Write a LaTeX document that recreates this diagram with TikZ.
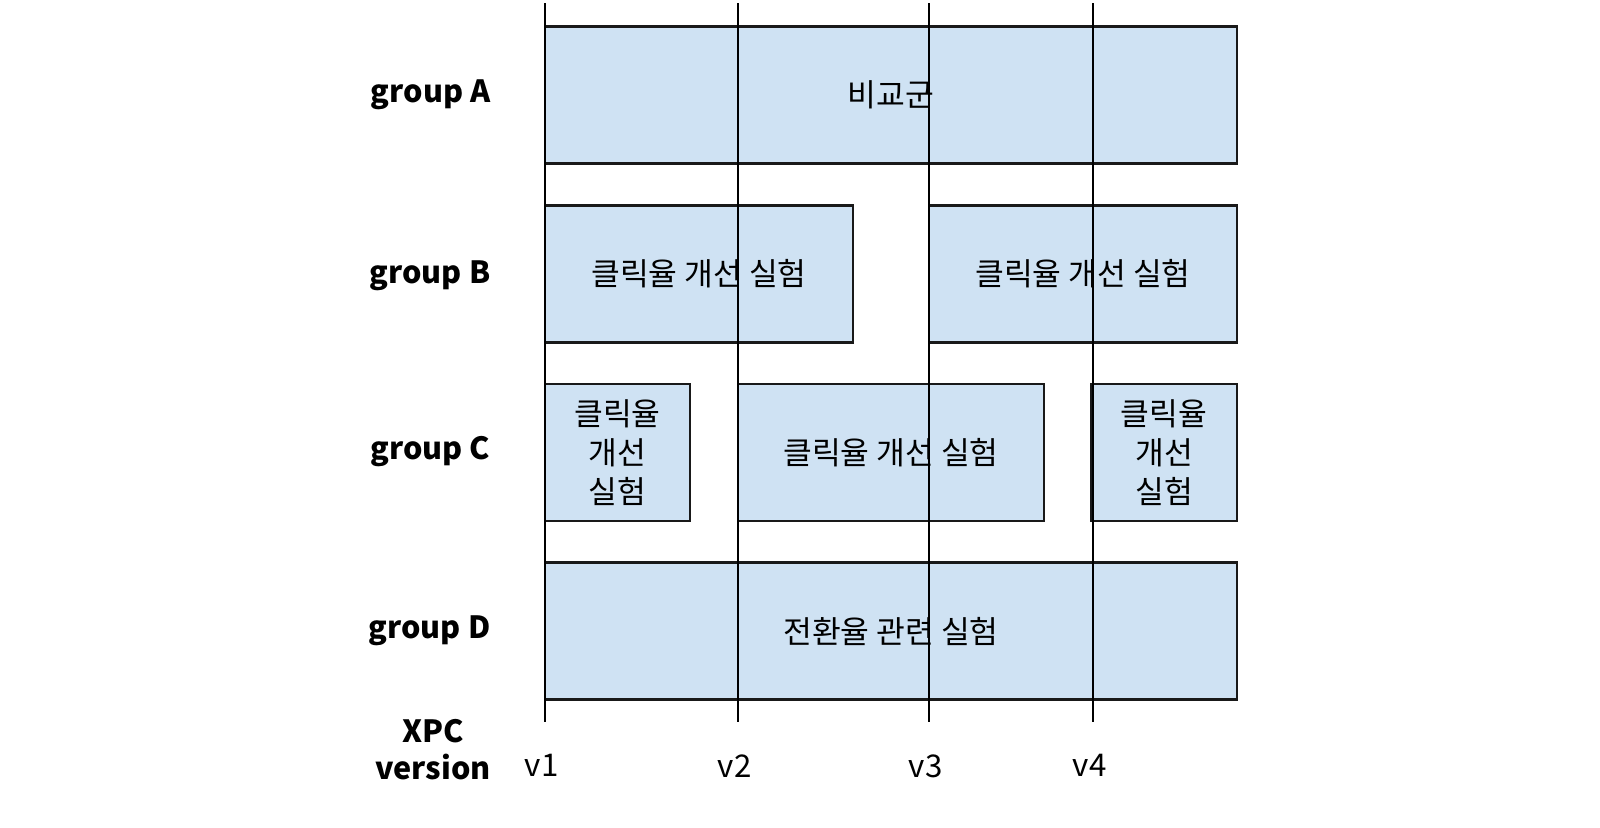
\documentclass[tikz,border=0pt]{standalone}
\usepackage{fontspec}
\setmainfont{Noto Sans CJK KR}
\usetikzlibrary{positioning}

\definecolor{expblue}{HTML}{CFE2F3}

\tikzset{
    expbox/.style={draw=black!90, line width=0.6pt, fill=expblue, inner sep=0pt,
        minimum height=1.37cm, align=center, font=\fontsize{8.9}{11.2}\selectfont},
    grouplabel/.style={anchor=base east, inner sep=0pt, font=\fontsize{8.7}{10.5}\selectfont\bfseries},
    verlabel/.style={font=\fontsize{8.9}{10}\selectfont},
    verline/.style={line width=0.6pt, black}
}

\begin{document}
\begin{tikzpicture}
    \useasboundingbox (0,0) rectangle (16,8.27);

    % groups
    \node[grouplabel] (ga) at (4.91,7.25) {group A};
    \node[grouplabel] (gb) at (4.91,5.44) {group B};
    \node[grouplabel] (gc) at (4.91,3.68) {group C};
    \node[grouplabel] (gd) at (4.91,1.89) {group D};
    \node[align=center, font=\fontsize{8.7}{10.5}\selectfont\bfseries] (xpc) at (4.33,0.77) {XPC\\version};

    % experiments
    \node[expbox, minimum width=6.92cm] (ctrl) at (8.91,7.32) {비교군};
    \node[expbox, minimum width=3.08cm] (b1) at (6.99,5.53) {클릭율 개선 실험};
    \node[expbox, minimum width=3.08cm] (b2) at (10.83,5.53) {클릭율 개선 실험};
    \node[expbox, minimum width=1.45cm] (c1) at (6.175,3.745) {클릭율\\개선\\실험};
    \node[expbox, minimum width=3.06cm] (c2) at (8.91,3.745) {클릭율 개선 실험};
    \node[expbox, minimum width=1.46cm] (c3) at (11.64,3.745) {클릭율\\개선\\실험};
    \node[expbox, minimum width=6.92cm] (conv) at (8.91,1.96) {전환율 관련 실험};

    % versions
    \foreach \i/\x in {1/5.45,2/7.38,3/9.29,4/10.93} {
        \coordinate (t\i) at (\x,8.24);
        \coordinate (b\i) at (\x,1.05);
        \draw[verline] (t\i) -- (b\i);
        \node[verlabel, below left=0.2cm and -0.26cm of b\i] (v\i) {v\i};
    }
\end{tikzpicture}
\end{document}
